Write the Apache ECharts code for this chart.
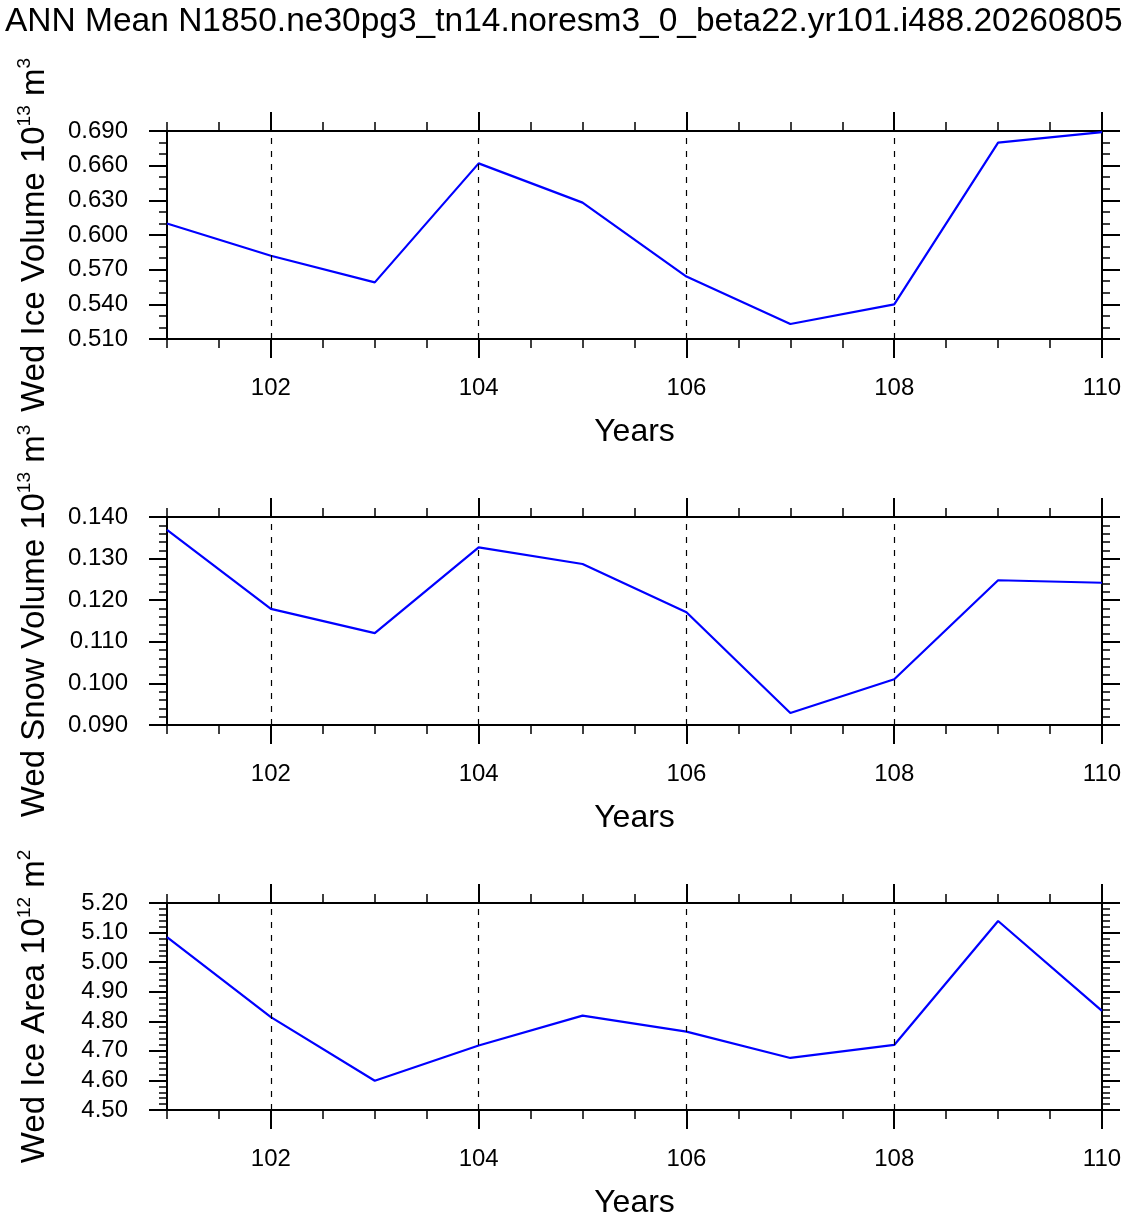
<!DOCTYPE html>
<html>
<head>
<meta charset="utf-8">
<script src="https://cdn.jsdelivr.net/npm/echarts@6/dist/echarts.min.js"></script>
<style>
html,body{margin:0;padding:0;background:#fff;}
#chart{width:1137px;height:1221px;}
</style>
</head>
<body>
<div id="chart"></div>
<script>
// 数据
var years = [101, 102, 103, 104, 105, 106, 107, 108, 109, 110];
var iceVolume = [0.610, 0.582, 0.559, 0.662, 0.628, 0.564, 0.523, 0.540, 0.680, 0.689];
var snowVolume = [0.1369, 0.1179, 0.1121, 0.1327, 0.1287, 0.1171, 0.0929, 0.1010, 0.1248, 0.1242];
var iceArea = [5.085, 4.814, 4.599, 4.718, 4.819, 4.765, 4.676, 4.720, 5.139, 4.835];

// 刻度
var xMajorTicks = [102, 104, 106, 108, 110];
var xMinorTicks = [101, 101.5, 102, 102.5, 103, 103.5, 104, 104.5, 105, 105.5, 106, 106.5, 107, 107.5, 108, 108.5, 109, 109.5, 110];
var gridYears = [102, 104, 106, 108];
var iceVolumeTicks = [0.510, 0.540, 0.570, 0.600, 0.630, 0.660, 0.690];
var snowVolumeTicks = [0.090, 0.100, 0.110, 0.120, 0.130, 0.140];
var iceAreaTicks = [4.50, 4.60, 4.70, 4.80, 4.90, 5.00, 5.10, 5.20];

var titleText = 'ANN Mean N1850.ne30pg3_tn14.noresm3_0_beta22.yr101.i488.20260805';
var fontFamily = 'Liberation Sans, Arial, Helvetica, sans-serif';

var panels = [
	{top: 131, height: 208, values: iceVolume, ticks: iceVolumeTicks, minorStep: 0.01, digits: 3,
		name: '{t|Wed Ice Volume 10}{s|13}{t| m}{s|3}'},
	{top: 517, height: 208, values: snowVolume, ticks: snowVolumeTicks, minorStep: 0.002, digits: 3,
		name: '{t|Wed Snow Volume 10}{s|13}{t| m}{s|3}'},
	{top: 903, height: 207, values: iceArea, ticks: iceAreaTicks, minorStep: 0.02, digits: 2,
		name: '{t|Wed Ice Area 10}{s|12}{t| m}{s|2}'}
];

//生成次刻度位置
function minorList(ticks, step){
	var list = [];
	var lo = ticks[0], hi = ticks[ticks.length - 1];
	var n = Math.round((hi - lo) / step);
	for(var i = 0; i <= n; i++){
		list.push(+(lo + i * step).toFixed(4));
	}
	return list;
}

var grids = [], xAxes = [], yAxes = [], series = [];

function each(arr, fn){ for(var i = 0; i < arr.length; i++){ fn(i, arr[i]); } }

each(panels, function(i, p){
	grids.push({left: 167, right: 35, top: p.top, height: p.height});
	var ymin = p.ticks[0], ymax = p.ticks[p.ticks.length - 1];
	var yMinor = minorList(p.ticks, p.minorStep);

	function xAxis(pos, major, withLabel){
		return {
			gridIndex: i, type: 'value', position: pos, min: 101, max: 110,
			axisLine: {show: major, onZero: false, lineStyle: {color: '#000', width: 2}},
			axisTick: {show: true, inside: false, length: major ? 19 : 9,
				customValues: major ? xMajorTicks : xMinorTicks,
				lineStyle: {color: '#000', width: major ? 2 : 1.5}},
			axisLabel: withLabel ? {show: true, customValues: xMajorTicks, margin: 37,
				fontSize: 24, color: '#000', fontFamily: fontFamily} : {show: false},
			splitLine: {show: false},
			name: withLabel ? 'Years' : '',
			nameLocation: 'middle', nameGap: 77,
			nameTextStyle: {fontSize: 32, color: '#000', fontFamily: fontFamily}
		};
	}
	function yAxis(pos, major, withLabel){
		return {
			gridIndex: i, type: 'value', position: pos, min: ymin, max: ymax,
			axisLine: {show: major, onZero: false, lineStyle: {color: '#000', width: 2}},
			axisTick: {show: true, inside: false, length: major ? 18 : 8,
				customValues: major ? p.ticks : yMinor,
				lineStyle: {color: '#000', width: major ? 2 : 1.5}},
			axisLabel: withLabel ? {show: true, customValues: p.ticks, margin: 39,
				fontSize: 24, color: '#000', fontFamily: fontFamily,
				formatter: function(v){ return (+v).toFixed(p.digits); }} : {show: false},
			splitLine: {show: false},
			name: withLabel ? p.name : '',
			nameLocation: 'middle', nameRotate: 90, nameGap: 112,
			nameTextStyle: {
				rich: {
					t: {fontSize: 33, lineHeight: 40, color: '#000', fontFamily: fontFamily},
					s: {fontSize: 19, lineHeight: 19, verticalAlign: 'top', color: '#000', fontFamily: fontFamily}
				}
			}
		};
	}
	var xBase = xAxes.length, yBase = yAxes.length;
	xAxes.push(xAxis('bottom', true, true), xAxis('bottom', false, false), xAxis('top', true, false), xAxis('top', false, false));
	yAxes.push(yAxis('left', true, true), yAxis('left', false, false), yAxis('right', true, false), yAxis('right', false, false));

	var data = [];
	each(years, function(k, yr){ data.push([yr, p.values[k]]); });
	series.push({
		type: 'line', xAxisIndex: xBase, yAxisIndex: yBase,
		data: data, symbol: 'none',
		lineStyle: {color: '#0000ff', width: 2.2},
		markLine: {
			silent: true, symbol: ['none', 'none'], label: {show: false},
			lineStyle: {color: '#000', width: 1.2, type: [6, 7]},
			data: gridYears.map(function(v){ return {xAxis: v}; })
		},
		z: 3
	});
});

var chart = echarts.init(document.getElementById('chart'));
chart.setOption({
	animation: false,
	backgroundColor: '#fff',
	title: {text: titleText, left: 0, top: 0,
		textStyle: {fontSize: 33.5, fontWeight: 'normal', color: '#000', fontFamily: fontFamily}},
	grid: grids,
	xAxis: xAxes,
	yAxis: yAxes,
	series: series
});
</script>
</body>
</html>
